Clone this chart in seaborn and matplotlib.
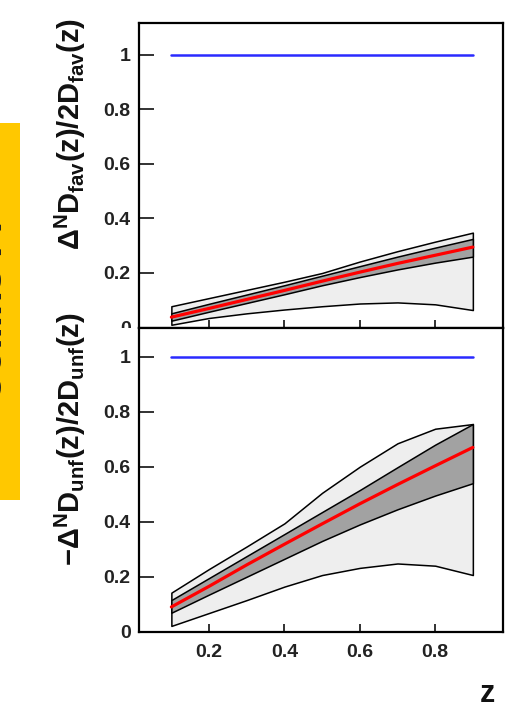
import matplotlib
matplotlib.use("Agg")
import matplotlib.pyplot as plt
import seaborn as sns
from matplotlib.patches import Rectangle

# ---------------- data ----------------
z = [0.1, 0.2, 0.3, 0.4, 0.5, 0.6, 0.7, 0.8, 0.9]

fav_outer_hi = [0.078, 0.108, 0.138, 0.168, 0.200, 0.242, 0.280, 0.315, 0.348]
fav_inner_hi = [0.052, 0.087, 0.121, 0.155, 0.190, 0.225, 0.260, 0.293, 0.325]
fav_central = [0.038, 0.070, 0.103, 0.136, 0.170, 0.203, 0.235, 0.265, 0.295]
fav_inner_lo = [0.025, 0.058, 0.090, 0.122, 0.155, 0.185, 0.213, 0.238, 0.260]
fav_outer_lo = [0.010, 0.035, 0.052, 0.066, 0.078, 0.088, 0.092, 0.085, 0.064]

unf_outer_hi = [0.142, 0.228, 0.310, 0.394, 0.505, 0.600, 0.685, 0.738, 0.755]
unf_inner_hi = [0.115, 0.195, 0.275, 0.355, 0.435, 0.515, 0.598, 0.680, 0.755]
unf_central = [0.090, 0.165, 0.243, 0.318, 0.392, 0.465, 0.535, 0.603, 0.670]
unf_inner_lo = [0.069, 0.135, 0.200, 0.265, 0.330, 0.390, 0.445, 0.495, 0.540]
unf_outer_lo = [0.021, 0.068, 0.115, 0.164, 0.206, 0.232, 0.248, 0.240, 0.206]

bound_z = [0.1, 0.9]
bound = [1.0, 1.0]

yticks = [0, 0.2, 0.4, 0.6, 0.8, 1.0]
ytick_labels = ["0", "0.2", "0.4", "0.6", "0.8", "1"]
xticks = [0.2, 0.4, 0.6, 0.8]
xtick_labels = ["0.2", "0.4", "0.6", "0.8"]

label_fav = r"$\Delta^N D_{fav}(z)/2D_{fav}(z)$"
label_unf = r"$-\Delta^N D_{unf}(z)/2D_{unf}(z)$"
label_x = "z"
side_title = "Collins FF"

# ---------------- style ----------------
sns.set_theme(style="white")
plt.rcParams["font.family"] = ["Liberation Sans", "DejaVu Sans"]
plt.rcParams["font.weight"] = "bold"
plt.rcParams["mathtext.fontset"] = "custom"
plt.rcParams["mathtext.rm"] = "Liberation Sans:bold"
plt.rcParams["mathtext.it"] = "Liberation Sans:bold"
plt.rcParams["mathtext.bf"] = "Liberation Sans:bold"
plt.rcParams["mathtext.sf"] = "Liberation Sans:bold"

W, H = 521, 718
fig = plt.figure(figsize=(W / 100, H / 100), dpi=100)
fig.patch.set_facecolor("white")


def rect(l, t, r, b):
    return [l / W, 1 - b / H, (r - l) / W, (b - t) / H]


ax1 = fig.add_axes(rect(139, 23, 503, 327.5))
ax2 = fig.add_axes(rect(139, 327.5, 503, 631.7))


def draw(ax, olo, ilo, c, ihi, ohi, ylim):
    ax.fill_between(z, olo, ohi, facecolor="#eeeeee", edgecolor="black",
                    linewidth=1.1, zorder=1)
    ax.fill_between(z, ilo, ihi, facecolor="#a2a2a2", edgecolor="black",
                    linewidth=1.1, zorder=2)
    sns.lineplot(x=z, y=c, ax=ax, color="#ff0000", linewidth=2.3, zorder=3)
    sns.lineplot(x=bound_z, y=bound, ax=ax, color="#2a2aff", linewidth=1.8,
                 zorder=3)
    ax.set_xlim(0.0141, 0.980)
    ax.set_ylim(*ylim)
    ax.set_xlabel("")
    ax.set_ylabel("")
    ax.set_yticks(yticks)
    ax.set_yticklabels(ytick_labels)
    ax.set_xticks(xticks)
    ax.set_xticklabels(xtick_labels)
    for s in ax.spines.values():
        s.set_visible(True)
        s.set_color("black")
        s.set_linewidth(1.6)
    ax.tick_params(axis="y", direction="in", length=11, width=1.3,
                   color="#222222", left=True, right=False, pad=6,
                   labelsize=14, labelcolor="#222222")
    ax.tick_params(axis="x", direction="in", length=5.5, width=1.3,
                   color="#222222", bottom=True, top=False, pad=9,
                   labelsize=14, labelcolor="#222222")
    for t in ax.get_xticklabels() + ax.get_yticklabels():
        t.set_fontweight("bold")
    ax.grid(False)
    ax.set_facecolor("white")


draw(ax1, fav_outer_lo, fav_inner_lo, fav_central, fav_inner_hi,
     fav_outer_hi, (0, 1.117))
draw(ax2, unf_outer_lo, unf_inner_lo, unf_central, unf_inner_hi,
     unf_outer_hi, (0, 1.106))
ax1.tick_params(axis="x", labelbottom=False)

# hide the lower part of the upper panel's "0" as in the original pad clipping
fig.add_artist(Rectangle((95 / W, 1 - 345 / H), 42 / W, 17.5 / H,
                         transform=fig.transFigure, facecolor="white",
                         edgecolor="none", zorder=1))

# axis titles
fig.text(70 / W, 1 - 18 / H, label_fav, rotation=90, ha="center", va="top",
         fontsize=21, color="#111111")
fig.text(70 / W, 1 - 312 / H, label_unf, rotation=90, ha="center", va="top",
         fontsize=21, color="#111111")
fig.text(487 / W, 1 - 694 / H, label_x, ha="center", va="center",
         fontsize=22, fontweight="bold", color="#111111")

# yellow side banner (its title is mostly cut off at the figure edge,
# exactly as in the original picture)
fig.add_artist(Rectangle((0, 1 - 500 / H), 20 / W, (500 - 123) / H,
                         transform=fig.transFigure, facecolor="#ffc800",
                         edgecolor="none", zorder=0))
fig.text(2.5 / W, 1 - 305 / H, side_title, rotation=90, rotation_mode="anchor",
         ha="center", va="baseline", fontsize=29, fontweight="bold",
         color="#222222")

fig.savefig("out.png", dpi=100)
